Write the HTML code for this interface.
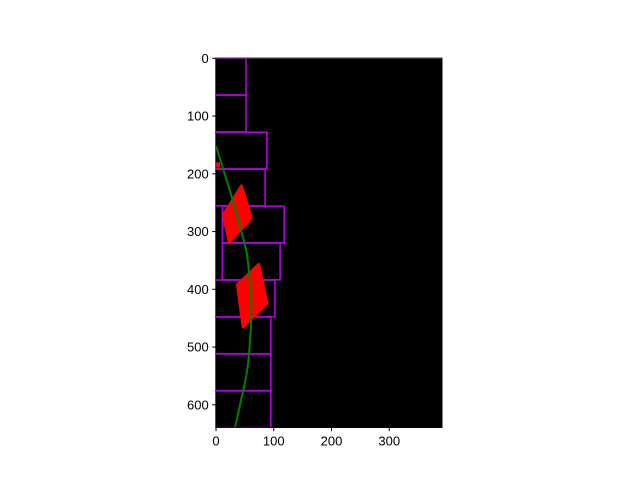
<!DOCTYPE html>
<html><head><meta charset="utf-8"><style>body{margin:0;background:#fff}svg text{font-family:"Liberation Sans","DejaVu Sans",sans-serif;font-size:13px}</style></head>
<body>
<svg id="c" width="640" height="480"><defs><clipPath id="cp"><rect x="215.7" y="58.6" width="226.4" height="369"/></clipPath></defs><g id="g" clip-path="url(#cp)"></g></svg>
<script>
const windowTops=[0,64,128,192,256,320,384,448,512,576];
const windowLefts=[-2,-2,-2,-2,11,11,-2,-2,-2,-2];
const windowRights=[52,52,88,85,118,111,102,95,95,95];
const quadA_x=[44,61,23,13];const quadA_y=[221,276,318,271];
const quadB_x=[74,88,47,37];const quadB_y=[357,424,465,392];
const curveY=[152,246,332,384,436,488,540,575,639];
const curveX=[0,29,52,58,61,59,54,47,33];
const xTicks=[0,100,200,300];const yTicks=[0,100,200,300,400,500,600];
const S=0.5775,L=216,T=58.3;
const sx=v=>L+v*S, sy=v=>T+v*S;
const NS="http://www.w3.org/2000/svg",svg=document.getElementById('c'),g=document.getElementById('g');
function mk(t,a,p){const e=document.createElementNS(NS,t);for(const k in a)e.setAttribute(k,a[k]);(p||svg).appendChild(e);return e;}
let e=mk('rect',{x:sx(-0.5),y:sy(-0.5),width:392*S,height:640*S,fill:'#000'},g);

windowTops.forEach((t,i)=>{const r=mk('rect',{x:sx(windowLefts[i]),y:sy(t),width:(windowRights[i]-windowLefts[i])*S,height:63.5*S,fill:'none',stroke:'#b000e0','stroke-width':1.6},g);
});
[[quadA_x,quadA_y],[quadB_x,quadB_y]].forEach(([qx,qy])=>{const p=mk('polygon',{points:qx.map((v,i)=>sx(v)+','+sy(qy[i])).join(' '),fill:'#f00',stroke:'#f00','stroke-width':3,'stroke-linejoin':'round'},g);
});
e=mk('rect',{x:sx(0),y:sy(180),width:4,height:5,fill:'#f00'},g);

const P=curveY.map((y,i)=>[sx(curveX[i]),sy(y)]);
let d='M'+P[0][0]+','+P[0][1];
for(let i=0;i<P.length-1;i++){const p0=P[Math.max(0,i-1)],p1=P[i],p2=P[i+1],p3=P[Math.min(P.length-1,i+2)];
d+=' C'+(p1[0]+(p2[0]-p0[0])/6)+','+(p1[1]+(p2[1]-p0[1])/6)+' '+(p2[0]-(p3[0]-p1[0])/6)+','+(p2[1]-(p3[1]-p1[1])/6)+' '+p2[0]+','+p2[1];}
e=mk('path',{d:d,fill:'none',stroke:'#008000','stroke-width':2},g);

e=mk('rect',{x:sx(-0.5),y:sy(-0.5),width:392*S,height:640*S,fill:'none',stroke:'#000','stroke-width':0.8});

xTicks.forEach(v=>{let l=mk('line',{x1:sx(v),x2:sx(v),y1:sy(639.5),y2:sy(639.5)+3.5,stroke:'#000'});

let t=mk('text',{x:sx(v),y:sy(639.5)+18,'text-anchor':'middle'});t.textContent=v;
});
yTicks.forEach(v=>{let l=mk('line',{x1:sx(-0.5)-3.5,x2:sx(-0.5),y1:sy(v),y2:sy(v),stroke:'#000'});

let t=mk('text',{x:sx(-0.5)-7,y:sy(v)+4.5,'text-anchor':'end'});t.textContent=v;
});
</script>
</body></html>
